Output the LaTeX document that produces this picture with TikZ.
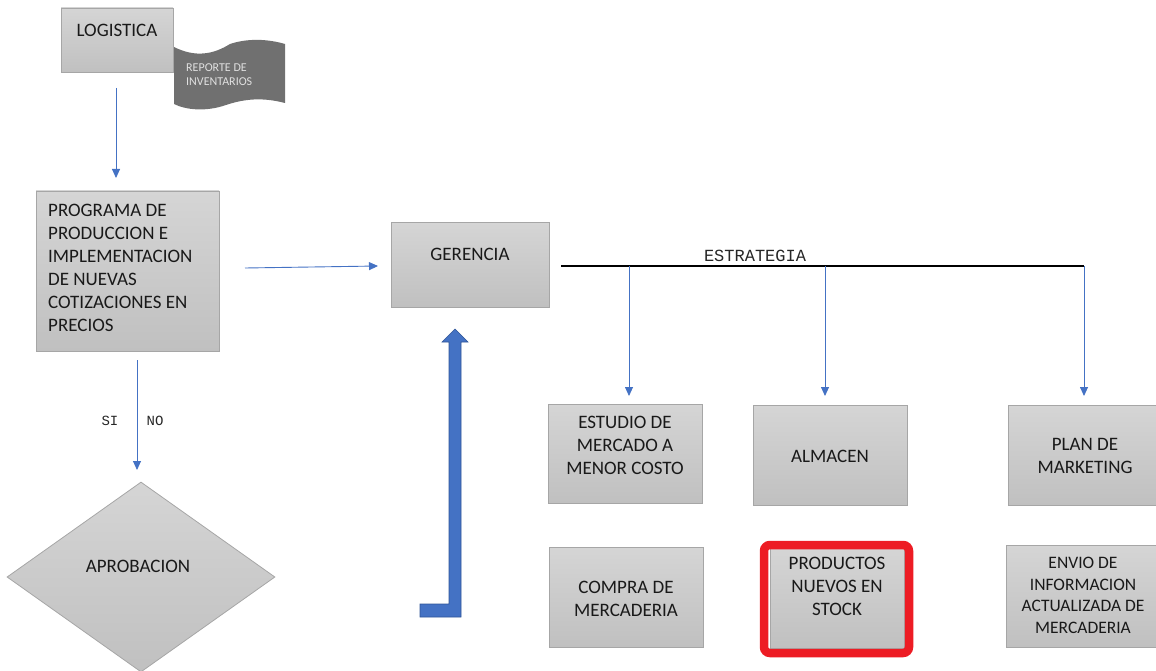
\documentclass[tikz,border=0pt]{standalone}
\usepackage{fontspec}
\setmainfont{Carlito}
\setmonofont{Liberation Mono}
\usetikzlibrary{arrows.meta,shapes.geometric}
\definecolor{boxedge}{HTML}{A6A6A6}
\definecolor{boxtop}{HTML}{D5D5D5}
\definecolor{boxbot}{HTML}{C0C0C0}
\definecolor{flowblue}{HTML}{4472C4}
\definecolor{flowblueedge}{HTML}{2F5597}
\definecolor{docgray}{HTML}{707070}
\definecolor{markred}{HTML}{ED1C24}
\tikzset{
  graybox/.style={draw=boxedge, line width=0.8pt, top color=boxtop, bottom color=boxbot,
    rectangle, inner sep=0pt},
  lbl/.style={font=\fontsize{19}{23}\selectfont, text=black!90, inner sep=0pt, align=center},
  monolbl/.style={font=\ttfamily\fontsize{17}{20}\selectfont, text=black!85, inner sep=0pt},
  flow/.style={draw=flowblue, line width=0.9pt, -{Triangle[length=9pt,width=8pt]}},
}
\begin{document}
\begin{tikzpicture}[x=1pt,y=-1pt]
  \useasboundingbox (0,0) rectangle (1156,671);
  \clip (0,0) rectangle (1156,671);

  % logistics and inventory report
  \node[graybox, minimum width=112pt, minimum height=64pt] (log) at (117,40) {};
  \node[lbl] (logt) at (117,30) {LOGISTICA};
  \fill[docgray] (174,47) .. controls (196,58) and (214,54) .. (230,44)
     .. controls (248,38) and (268,39) .. (285,44) -- (285,103)
     .. controls (262,97) and (244,99) .. (226,105)
     .. controls (206,112) and (186,110) .. (174,104) -- cycle;
  \node[font=\fontsize{12}{14}\selectfont, text=white!88!black, align=left, anchor=west, inner sep=0pt]
     (rep) at (186,75) {REPORTE DE\\INVENTARIOS};

  % production programme
  \node[graybox, minimum width=183pt, minimum height=160pt] (prog) at (127.5,271) {};
  \node[lbl, align=left, anchor=west] (progt) at (48,267.5)
     {PROGRAMA DE\\PRODUCCION E\\IMPLEMENTACION\\DE NUEVAS\\COTIZACIONES EN\\PRECIOS};

  % management
  \node[graybox, minimum width=158pt, minimum height=85pt] (ger) at (470,264.5) {};
  \node[lbl] (gert) at (470,254) {GERENCIA};

  % approval decision
  \node[diamond, draw=boxedge, line width=0.8pt, top color=boxtop, bottom color=boxbot,
        minimum width=268pt, minimum height=190pt, inner sep=0pt] (apr) at (141,577) {};
  \node[lbl] (aprt) at (138,566) {APROBACION};

  % strategy branches
  \node[graybox, minimum width=154pt, minimum height=99pt] (est) at (625,453.5) {};
  \node[lbl] (estt) at (625,445) {ESTUDIO DE\\MERCADO A\\MENOR COSTO};
  \node[graybox, minimum width=154pt, minimum height=100pt] (alm) at (830,455) {};
  \node[lbl] (almt) at (830,456) {ALMACEN};
  \node[graybox, minimum width=154pt, minimum height=100pt] (plan) at (1085,455) {};
  \node[lbl] (plant) at (1085,455.5) {PLAN DE\\MARKETING};

  % results
  \node[graybox, minimum width=154pt, minimum height=100pt] (comp) at (626,597) {};
  \node[lbl] (compt) at (626,598.5) {COMPRA DE\\MERCADERIA};
  \node[graybox, minimum width=134pt, minimum height=100pt] (prod) at (837,598) {};
  \draw[markred, line width=8.5pt, rounded corners=6pt] (764,545) rectangle (909,653);
  \node[lbl] (prodt) at (837,586.5) {PRODUCTOS\\NUEVOS EN\\STOCK};
  \node[graybox, minimum width=153pt, minimum height=102pt] (env) at (1083,596) {};
  \node[lbl, font=\fontsize{17.5}{21.7}\selectfont] (envt) at (1083,595.5)
     {ENVIO DE\\INFORMACION\\ACTUALIZADA DE\\MERCADERIA};

  % connectors
  \coordinate (a1s) at (116,88);  \coordinate (a1e) at (116,178);
  \draw[flow] (a1s) -- (a1e);
  \coordinate (a2s) at (245,268); \coordinate (a2e) at (378,266);
  \draw[flow] (a2s) -- (a2e);
  \coordinate (a3s) at (137,360); \coordinate (a3e) at (137,470);
  \draw[flow] (a3s) -- (a3e);
  \node[monolbl, font=\ttfamily\fontsize{14}{16}\selectfont] (si) at (110,421) {SI};
  \node[monolbl, font=\ttfamily\fontsize{14}{16}\selectfont] (no) at (155,421) {NO};

  \coordinate (bs) at (561,266);
  \coordinate (b1) at (629,266);
  \coordinate (b2) at (825,266);
  \coordinate (b3) at (1084,266);
  \draw[black, line width=1.1pt] (bs) -- (b3);
  \node[monolbl] (estr) at (755,256) {ESTRATEGIA};
  \coordinate (e1) at (629,396);
  \coordinate (e2) at (825,396);
  \coordinate (e3) at (1084,396);
  \draw[flow] (b1) -- (e1);
  \draw[flow] (b2) -- (e2);
  \draw[flow] (b3) -- (e3);

  % feedback bent arrow
  \filldraw[fill=flowblue, draw=flowblueedge, line width=0.6pt]
    (455,329) -- (468,342) -- (461,342) -- (461,617) -- (420,617) -- (420,604)
    -- (449,604) -- (449,342) -- (442,342) -- cycle;
\end{tikzpicture}
\end{document}
